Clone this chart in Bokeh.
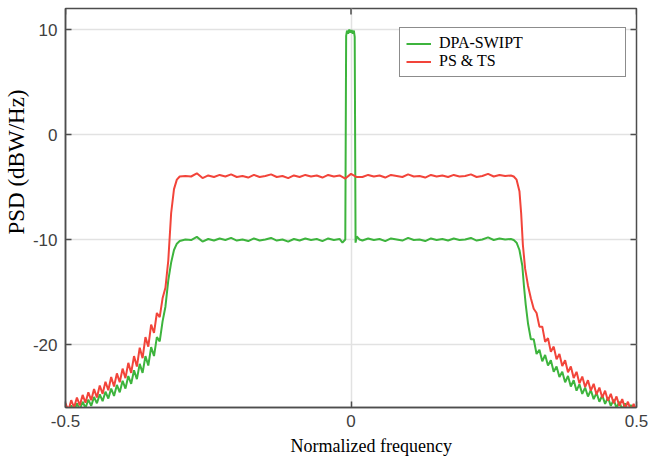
import math
from bokeh.plotting import figure
from bokeh.models import (Range1d, FixedTicker, Legend, LegendItem, Title)
from bokeh.embed import file_html
from bokeh.resources import INLINE

# ---------------- data ----------------
x_ticks = [-0.5, 0, 0.5]
x_tick_labels = ["-0.5", "0", "0.5"]
y_ticks = [-20, -10, 0, 10]
y_tick_labels = ["-20", "-10", "0", "10"]
x_lim = [-0.5, 0.5]
y_lim = [-26, 12]

series_names = ["DPA-SWIPT", "PS & TS"]

dpa_x = [
    -0.500, -0.495, -0.490, -0.485, -0.480, -0.475, -0.470, -0.465, -0.460, -0.455,
    -0.450, -0.445, -0.440, -0.435, -0.430, -0.425, -0.420, -0.415, -0.410, -0.405,
    -0.400, -0.395, -0.390, -0.385, -0.380, -0.375, -0.370, -0.365, -0.360, -0.355,
    -0.350, -0.345, -0.340, -0.335, -0.330, -0.325, -0.320, -0.315, -0.310, -0.305,
    -0.300, -0.290, -0.280, -0.270, -0.260, -0.250, -0.240, -0.230, -0.220, -0.210,
    -0.200, -0.190, -0.180, -0.170, -0.160, -0.150, -0.140, -0.130, -0.120, -0.110,
    -0.100, -0.090, -0.080, -0.070, -0.060, -0.050, -0.040, -0.030, -0.020, -0.015,
    -0.010, -0.0085, -0.007, -0.005, -0.003, -0.001, 0.001, 0.003, 0.005, 0.0065,
    0.008, 0.010, 0.015, 0.020, 0.030, 0.040, 0.050, 0.060, 0.070, 0.080,
    0.090, 0.100, 0.110, 0.120, 0.130, 0.140, 0.150, 0.160, 0.170, 0.180,
    0.190, 0.200, 0.210, 0.220, 0.230, 0.240, 0.250, 0.260, 0.270, 0.280,
    0.285, 0.290, 0.295, 0.300, 0.303, 0.306, 0.310, 0.315, 0.320, 0.325,
    0.330, 0.335, 0.340, 0.345, 0.350, 0.355, 0.360, 0.365, 0.370, 0.375,
    0.380, 0.385, 0.390, 0.395, 0.400, 0.405, 0.410, 0.415, 0.420, 0.425,
    0.430, 0.435, 0.440, 0.445, 0.450, 0.455, 0.460, 0.465, 0.470, 0.475,
    0.480, 0.485, 0.490, 0.495, 0.500,
]
dpa_y = [
    -26.0, -26.5, -25.8, -26.4, -25.6, -26.2, -25.45, -26.05, -25.25, -25.85,
    -25.0, -25.6, -24.75, -25.4, -24.5, -25.15, -24.2, -24.9, -23.85, -24.55,
    -23.45, -24.2, -23.0, -23.75, -22.45, -23.3, -21.85, -22.7, -21.1, -22.0,
    -20.25, -21.1, -19.3, -19.7, -17.8, -16.4, -13.9, -12.2, -11.0, -10.4,
    -10.15, -10.0, -10.05, -9.75, -10.2, -9.95, -10.1, -9.9, -10.05, -9.85,
    -10.1, -10.0, -10.15, -9.9, -10.1, -10.0, -9.85, -10.1, -10.0, -10.2,
    -9.95, -10.1, -9.9, -10.05, -9.95, -10.15, -9.9, -10.05, -9.95, -10.3,
    -10.0, 9.4, 9.9, 9.6, 10.0, 9.7, 9.95, 9.6, 9.9, 9.3,
    -10.3, -9.7, -10.0, -10.1, -9.9, -10.05, -9.95, -10.15, -9.9, -10.0,
    -10.1, -9.85, -10.05, -10.0, -10.15, -9.9, -10.05, -9.95, -10.1, -9.9,
    -10.05, -10.0, -9.85, -10.1, -10.0, -9.8, -10.05, -9.9, -10.0, -9.95,
    -10.05, -10.3, -11.0, -12.5, -14.5, -16.2, -18.0, -19.5, -19.5, -20.9,
    -20.5, -21.6, -21.0, -22.0, -21.5, -22.6, -22.1, -23.1, -22.6, -23.6,
    -23.0, -24.0, -23.4, -24.4, -23.8, -24.7, -24.1, -24.95, -24.35, -25.2,
    -24.6, -25.45, -24.85, -25.65, -25.05, -25.85, -25.25, -26.05, -25.45, -26.2,
    -25.6, -26.35, -25.75, -26.5, -25.95,
]

ps_x = [
    -0.500, -0.495, -0.490, -0.485, -0.480, -0.475, -0.470, -0.465, -0.460, -0.455,
    -0.450, -0.445, -0.440, -0.435, -0.430, -0.425, -0.420, -0.415, -0.410, -0.405,
    -0.400, -0.395, -0.390, -0.385, -0.380, -0.375, -0.370, -0.365, -0.360, -0.355,
    -0.350, -0.345, -0.340, -0.335, -0.330, -0.325, -0.320, -0.315, -0.310, -0.305,
    -0.300, -0.290, -0.280, -0.270, -0.260, -0.250, -0.240, -0.230, -0.220, -0.210,
    -0.200, -0.190, -0.180, -0.170, -0.160, -0.150, -0.140, -0.130, -0.120, -0.110,
    -0.100, -0.090, -0.080, -0.070, -0.060, -0.050, -0.040, -0.030, -0.020, -0.010,
    0.000, 0.010, 0.020, 0.030, 0.040, 0.050, 0.060, 0.070, 0.080, 0.090,
    0.100, 0.110, 0.120, 0.130, 0.140, 0.150, 0.160, 0.170, 0.180, 0.190,
    0.200, 0.210, 0.220, 0.230, 0.240, 0.250, 0.260, 0.270, 0.280, 0.285,
    0.290, 0.295, 0.298, 0.301, 0.305, 0.310, 0.315, 0.320, 0.325, 0.330,
    0.335, 0.340, 0.345, 0.350, 0.355, 0.360, 0.365, 0.370, 0.375, 0.380,
    0.385, 0.390, 0.395, 0.400, 0.405, 0.410, 0.415, 0.420, 0.425, 0.430,
    0.435, 0.440, 0.445, 0.450, 0.455, 0.460, 0.465, 0.470, 0.475, 0.480,
    0.485, 0.490, 0.495, 0.500,
]
ps_y = [
    -25.6, -26.3, -25.3, -26.0, -25.05, -25.8, -24.8, -25.55, -24.55, -25.3,
    -24.25, -25.05, -23.9, -24.7, -23.55, -24.35, -23.1, -24.0, -22.75, -23.6,
    -22.3, -23.2, -21.75, -22.7, -21.1, -22.1, -20.3, -21.3, -19.3, -20.2,
    -18.1, -18.9, -17.0, -17.4, -15.6, -14.6, -12.0, -7.5, -5.2, -4.3,
    -4.0, -3.95, -4.0, -3.7, -4.15, -3.9, -4.05, -3.85, -4.0, -3.8,
    -4.05, -3.95, -4.1, -3.85, -4.05, -3.95, -3.8, -4.05, -3.95, -4.15,
    -3.9, -4.05, -3.85, -4.0, -3.9, -4.1, -3.85, -4.0, -3.9, -4.2,
    -3.75, -4.05, -4.05, -3.85, -4.0, -3.9, -4.1, -3.85, -3.95, -4.05,
    -3.8, -4.0, -3.95, -4.1, -3.85, -4.0, -3.9, -4.05, -3.85, -4.0,
    -3.95, -3.8, -4.05, -3.95, -3.75, -4.0, -3.85, -3.95, -3.9, -4.0,
    -4.3, -5.4, -7.5, -10.5, -12.8, -14.4, -15.6, -16.6, -17.0, -18.3,
    -18.3, -19.75, -19.4, -20.7, -20.2, -21.4, -20.9, -22.05, -21.5, -22.65,
    -22.1, -23.2, -22.6, -23.7, -23.05, -24.05, -23.4, -24.4, -23.75, -24.75,
    -24.1, -25.05, -24.4, -25.35, -24.7, -25.6, -24.95, -25.85, -25.2, -26.1,
    -25.45, -26.3, -25.65, -26.4,
]

colors = ["#3db43d", "#f2443a"]
axis_color = "#4d4d4d"
tick_font = "Liberation Sans"
label_font = "Liberation Serif"

p = figure(width=655, height=462, output_backend="svg", toolbar_location=None,
           x_range=Range1d(*x_lim), y_range=Range1d(*y_lim),
           min_border_left=65, min_border_right=19, min_border_top=8,
           min_border_bottom=55)
p.background_fill_color = "white"
p.border_fill_color = "white"
p.outline_line_color = axis_color
p.outline_line_width = 1.5

for ax, ticks, labels in ((p.xaxis[0], x_ticks, x_tick_labels),
                          (p.yaxis[0], y_ticks, y_tick_labels)):
    ax.ticker = FixedTicker(ticks=ticks)
    ax.major_label_overrides = {t: l for t, l in zip(ticks, labels)}
    ax.major_tick_in = 6
    ax.major_tick_out = 0
    ax.minor_tick_line_color = None
    ax.axis_line_color = axis_color
    ax.axis_line_width = 1.5
    ax.major_tick_line_color = axis_color
    ax.major_tick_line_width = 1.5
    ax.major_label_text_font = tick_font
    ax.major_label_text_font_size = "17px"
    ax.major_label_text_color = "#404040"
p.yaxis[0].major_label_standoff = 8
p.xaxis[0].major_label_standoff = 7

p.xgrid.ticker = FixedTicker(ticks=x_ticks)
p.ygrid.ticker = FixedTicker(ticks=y_ticks)
for g in (p.xgrid[0], p.ygrid[0]):
    g.grid_line_color = "#e2e2e2"
    g.grid_line_width = 1.5

# mirrored inward ticks on the top and right edges of the box
p.ray(x=x_ticks, y=[y_lim[1]] * len(x_ticks), length=6, length_units="screen",
      angle=-math.pi / 2, line_color=axis_color, line_width=1.5)
p.ray(x=[x_lim[1]] * len(y_ticks), y=y_ticks, length=6, length_units="screen",
      angle=math.pi, line_color=axis_color, line_width=1.5)

r1 = p.line(dpa_x, dpa_y, line_color=colors[0], line_width=2)
r2 = p.line(ps_x, ps_y, line_color=colors[1], line_width=2)

legend = Legend(items=[LegendItem(label=series_names[0], renderers=[r1]),
                       LegendItem(label=series_names[1], renderers=[r2])],
                location=(334, 330))
legend.label_text_font = label_font
legend.label_text_font_size = "16px"
legend.label_text_color = "black"
legend.border_line_color = "#1a1a1a"
legend.border_line_width = 1
legend.background_fill_color = "white"
legend.background_fill_alpha = 1
legend.padding = 6
legend.spacing = 0
legend.margin = 0
legend.glyph_width = 25
legend.glyph_height = 17
legend.label_height = 17
legend.label_width = 180
legend.label_standoff = 8
p.add_layout(legend)

ylab = Title(text="PSD (dBW/Hz)", align="left", offset=173, standoff=2,
             text_font=label_font, text_font_size="23px",
             text_font_style="normal", text_color="black")
xlab = Title(text="Normalized frequency", align="left", offset=225, standoff=9,
             text_font=label_font, text_font_size="18px",
             text_font_style="normal", text_color="black")
p.add_layout(ylab, "left")
p.add_layout(xlab, "below")

open("out.html", "w").write(file_html(p, INLINE))
